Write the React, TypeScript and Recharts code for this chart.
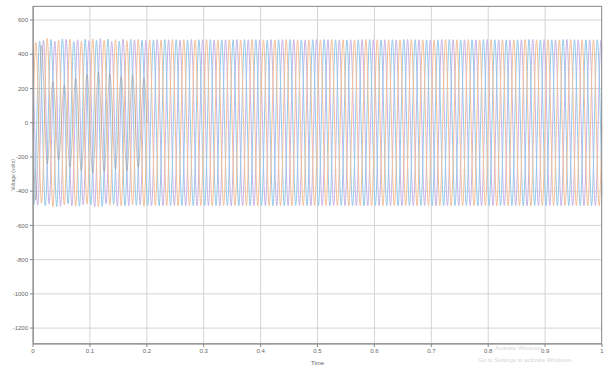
import { LineChart, Line, XAxis, YAxis, CartesianGrid } from "recharts"

// scope axes
const xTicks = [0, 0.1, 0.2, 0.3, 0.4, 0.5, 0.6, 0.7, 0.8, 0.9, 1]
const yTicks = [600, 400, 200, 0, -200, -400, -600, -800, -1000, -1200]

// peak magnitude of each 50 Hz cycle (volts)
const phaseA = [
  470, 492, 480, 488, 476, 490, 482, 486, 479, 488,
  485, 484, 486, 485, 484, 486, 485, 485, 484, 486,
  485, 484, 486, 485, 485, 484, 486, 485, 484, 486,
  485, 485, 484, 486, 485, 484, 486, 485, 485, 484,
  486, 485, 484, 486, 485, 485, 484, 486, 485, 485,
]
const phaseB = [
  478, 486, 490, 474, 488, 481, 489, 477, 487, 483,
  484, 486, 485, 484, 485, 486, 484, 485, 486, 485,
  484, 485, 486, 484, 485, 486, 485, 484, 485, 486,
  484, 485, 486, 485, 484, 485, 486, 484, 485, 486,
  485, 484, 485, 486, 484, 485, 486, 485, 484, 485,
]
const phaseC = [
  482, 476, 489, 485, 480, 491, 475, 488, 484, 480,
  486, 485, 484, 486, 485, 484, 485, 486, 485, 484,
  486, 485, 485, 484, 486, 485, 484, 485, 486, 485,
  485, 484, 486, 485, 484, 486, 485, 485, 484, 486,
  485, 484, 485, 486, 485, 484, 486, 485, 485, 484,
]
// darker transient trace during start-up (first 0.2 s)
const transient = [450, 240, 220, 260, 280, 295, 285, 270, 280, 260]

// value at t = 0, time of first extreme, sign of first extreme
const startValues = [0, -420, 420, 0]
const firstExtreme = [0.005, 0.001667, 0.008333, 0.005]
const firstSign = [1, -1, -1, -1]

const HALF = 0.01

function buildWave(peaks: number[], idx: number) {
  const pts = [{ t: 0, v: startValues[idx] }]
  const end = peaks.length * 2 * HALF
  for (let k = 0; k < peaks.length * 2; k++) {
    const t = firstExtreme[idx] + k * HALF
    if (t > end) break
    const sign = k % 2 === 0 ? firstSign[idx] : -firstSign[idx]
    pts.push({ t, v: sign * peaks[Math.floor(k / 2)] })
  }
  pts.push({ t: end, v: startValues[idx] })
  return pts
}

const waveA = buildWave(phaseA, 0)
const waveB = buildWave(phaseB, 1)
const waveC = buildWave(phaseC, 2)
const waveT = buildWave(transient, 3)

const font = "'Liberation Sans', Arial, sans-serif"
const tickStyle = { fontSize: 6, fill: "#666", fontFamily: font }

export default function App() {
  return (
    <div
      style={{
        position: "fixed",
        top: 0,
        left: 0,
        width: 610,
        height: 366,
        background: "#fff",
        fontFamily: font,
      }}
    >
      <LineChart
        width={610}
        height={366}
        margin={{ top: 6, right: 8, left: 0, bottom: 0 }}
      >
        <CartesianGrid stroke="#d4d4d4" strokeWidth={1} />
        <XAxis
          type="number"
          dataKey="t"
          domain={[0, 1]}
          ticks={xTicks}
          tick={tickStyle}
          tickSize={3}
          height={22}
          stroke="#888"
          label={{ value: "Time", position: "insideBottom", offset: 1, style: tickStyle }}
        />
        <YAxis
          type="number"
          dataKey="v"
          domain={[-1293, 682]}
          ticks={yTicks}
          tick={tickStyle}
          tickSize={3}
          width={33}
          stroke="#888"
          allowDataOverflow
        />
        <Line data={waveC} dataKey="v" type="monotone" stroke="#c7b3e6" strokeWidth={1} dot={false} isAnimationActive={false} />
        <Line data={waveB} dataKey="v" type="monotone" stroke="#94c9ea" strokeWidth={1} dot={false} isAnimationActive={false} />
        <Line data={waveA} dataKey="v" type="monotone" stroke="#f3bf98" strokeWidth={1} dot={false} isAnimationActive={false} />
        <Line data={waveT} dataKey="v" type="monotone" stroke="#9a948c" strokeOpacity={0.55} strokeWidth={1} dot={false} isAnimationActive={false} />
      </LineChart>
      <div
        style={{
          position: "absolute",
          left: 33,
          top: 6,
          width: 569,
          height: 338,
          border: "1px solid #999",
          boxSizing: "border-box",
          pointerEvents: "none",
        }}
      />
      <div
        style={{
          position: "absolute",
          left: 13,
          top: 175,
          fontSize: 5,
          color: "#777",
          whiteSpace: "nowrap",
          transform: "translate(-50%, -50%) rotate(-90deg)",
        }}
      >
        Voltage (volts)
      </div>
      <div style={{ position: "absolute", left: 495, top: 345, fontSize: 6, lineHeight: "7px", color: "#d6d6d6", whiteSpace: "nowrap" }}>
        Activate Windows
      </div>
      <div style={{ position: "absolute", left: 478, top: 357, fontSize: 6, lineHeight: "7px", color: "#d6d6d6", whiteSpace: "nowrap" }}>
        Go to Settings to activate Windows.
      </div>
    </div>
  )
}
